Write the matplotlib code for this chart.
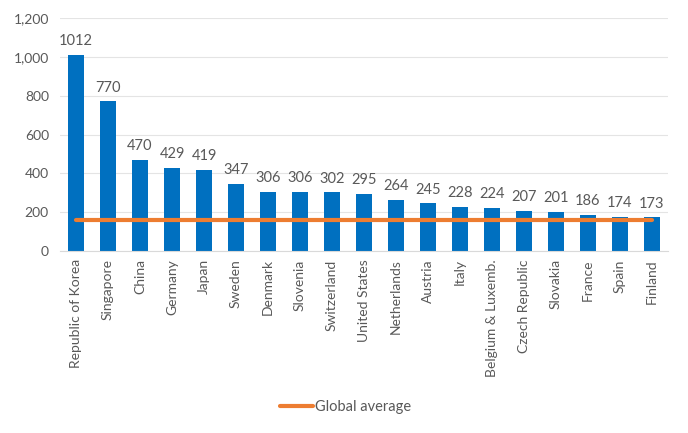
import matplotlib.pyplot as plt
from matplotlib.ticker import FuncFormatter

plt.rcParams['font.family'] = ['Lato', 'DejaVu Sans']

countries = ['Republic of Korea', 'Singapore', 'China', 'Germany', 'Japan', 'Sweden',
             'Denmark', 'Slovenia', 'Switzerland', 'United States', 'Netherlands',
             'Austria', 'Italy', 'Belgium & Luxemb.', 'Czech Republic', 'Slovakia',
             'France', 'Spain', 'Finland']
values = [1012, 770, 470, 429, 419, 347, 306, 306, 302, 295, 264, 245, 228, 224,
          207, 201, 186, 174, 173]
global_avg = 160

grey = '#595959'
fig = plt.figure(figsize=(6.88, 4.33), dpi=100)
ax = fig.add_axes([60 / 688, 1 - 251 / 433, 608 / 688, 233 / 433])

x = list(range(len(countries)))
ax.bar(x, values, width=0.47, color='#0070C0', zorder=2)
ax.plot(x, [global_avg] * len(x), color='#ED7D31', linewidth=3, zorder=3,
        solid_capstyle='round', label='Global average')

for xi, v in zip(x, values):
    ax.text(xi, v + 35, str(v), ha='center', va='bottom', fontsize=10.5, color=grey)

ax.set_xlim(-0.5, len(x) - 0.5)
ax.set_ylim(0, 1200)
ax.set_yticks(range(0, 1201, 200))
ax.yaxis.set_major_formatter(FuncFormatter(lambda v, p: f'{int(v):,}'))
ax.set_xticks(x)
ax.set_xticklabels(countries, rotation=90, fontsize=10, color=grey)
ax.tick_params(axis='y', labelsize=10, labelcolor=grey, length=0, pad=8)
ax.tick_params(axis='x', length=0, pad=6)
ax.grid(axis='y', color='#e4e4e4', linewidth=0.8, zorder=0)
for s in ['top', 'right', 'left']:
    ax.spines[s].set_visible(False)
ax.spines['bottom'].set_color('#d9d9d9')

fig.legend(loc='center', bbox_to_anchor=(346 / 688, 1 - 407 / 433), frameon=False,
           fontsize=10.5, labelcolor=grey, handlelength=2.2, handletextpad=0.2)

fig.savefig('out.png', dpi=100)
